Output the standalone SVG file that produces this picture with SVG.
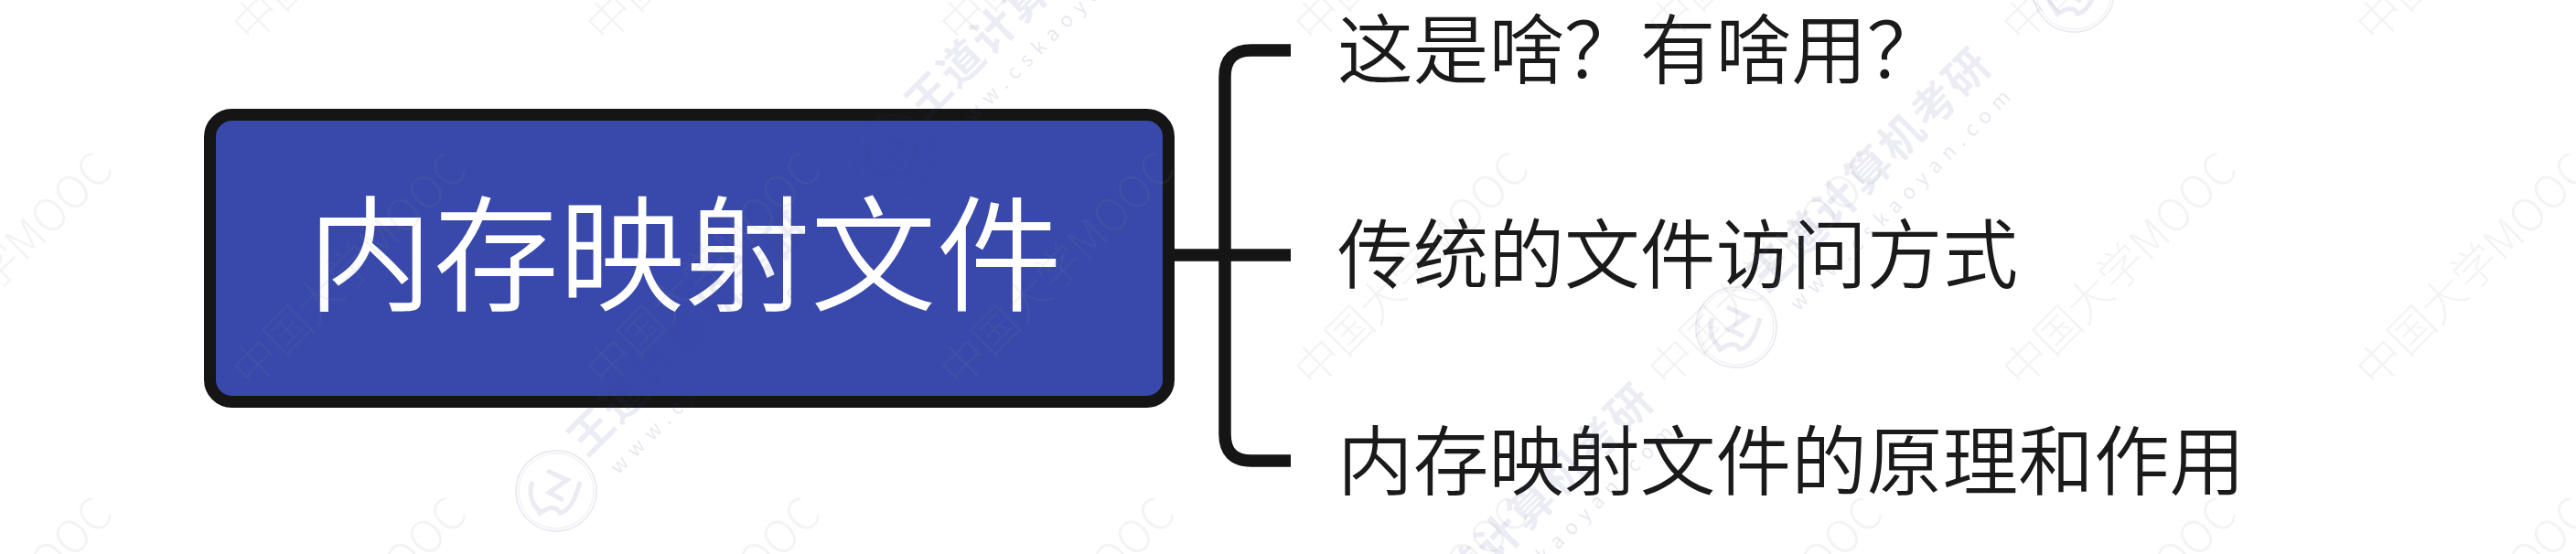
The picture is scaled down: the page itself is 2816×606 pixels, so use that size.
<svg xmlns="http://www.w3.org/2000/svg" width="2816" height="606" viewBox="0 0 2816 606">
<style>
text{font-family:"Noto Sans CJK SC","Noto Sans",sans-serif}
.root{fill:#3949AB;stroke:#151515;stroke-width:13}
.rootlabel{font-size:137.5px;fill:#fff;font-weight:350}
.child{font-size:82.7px;fill:#1a1a1a;font-weight:350}
.conn{fill:none;stroke:#151515;stroke-width:13.5}
.wm1{font-size:49px;font-weight:300;fill:#888;fill-opacity:.1}
.wm2{font-size:48px;font-weight:700;fill:#3c3c8c;fill-opacity:.1}
.wm3{font-size:22px;fill:#3c3c8c;fill-opacity:.13}
.lg{fill:none;stroke:#3c3c8c;stroke-opacity:.1}
</style>
<defs>
<text id="mooc" class="wm1" x="-24" y="17" transform="rotate(-45)">中国大学MOOC</text>
<g id="wd">
<circle class="lg" r="44" stroke-width="2"/>
<circle class="lg" r="41" stroke-width="1"/>
<path class="lg" stroke-width="5" d="M-26,-10A28,28 0 0 0 -18,22M-20,26Q-2,12 4,24Q18,22 26,-10M-10,-22L12,-12L-8,2L8,10"/>
<text class="wm2" x="49" y="-2" transform="rotate(-45)" textLength="350">王道计算机考研</text>
<text class="wm3" x="60" y="36" transform="rotate(-45)" textLength="330">www.cskaoyan.com</text>
</g>
</defs>
<rect width="2816" height="606" fill="#fff"/>
<g id="connectors">
<path class="conn" d="M1284,279H1411"/>
<path class="conn" d="M1411,55H1368Q1339,55 1339,84V475Q1339,504 1368,504H1411"/>
</g>
<g id="node-root">
<rect class="root" x="229.5" y="125.5" width="1048" height="314" rx="24"/>
<text class="rootlabel" x="336" y="330">内存映射文件</text>
</g>
<g id="node-child-1"><text class="child" x="1462" y="85">这是啥？有啥用？</text></g>
<g id="node-child-2"><text class="child" x="1462" y="309">传统的文件访问方式</text></g>
<g id="node-child-3"><text class="child" x="1462" y="535">内存映射文件的原理和作用</text></g>
<g id="watermarks">
<use href="#mooc" x="-107" y="20"/><use href="#mooc" x="280" y="20"/><use href="#mooc" x="667" y="20"/><use href="#mooc" x="1054" y="20"/><use href="#mooc" x="1441" y="20"/><use href="#mooc" x="1828" y="20"/><use href="#mooc" x="2215" y="20"/><use href="#mooc" x="2602" y="20"/>
<use href="#mooc" x="-107" y="397"/><use href="#mooc" x="280" y="397"/><use href="#mooc" x="667" y="397"/><use href="#mooc" x="1054" y="397"/><use href="#mooc" x="1441" y="397"/><use href="#mooc" x="1828" y="397"/><use href="#mooc" x="2215" y="397"/><use href="#mooc" x="2602" y="397"/>
<use href="#mooc" x="-107" y="774"/><use href="#mooc" x="280" y="774"/><use href="#mooc" x="667" y="774"/><use href="#mooc" x="1054" y="774"/><use href="#mooc" x="1441" y="774"/><use href="#mooc" x="1828" y="774"/><use href="#mooc" x="2215" y="774"/><use href="#mooc" x="2602" y="774"/>
<use href="#wd" x="608" y="537"/><use href="#wd" x="977" y="170"/><use href="#wd" x="1529" y="725"/><use href="#wd" x="1898" y="358"/><use href="#wd" x="2267" y="-9"/>
</g>
</svg>
